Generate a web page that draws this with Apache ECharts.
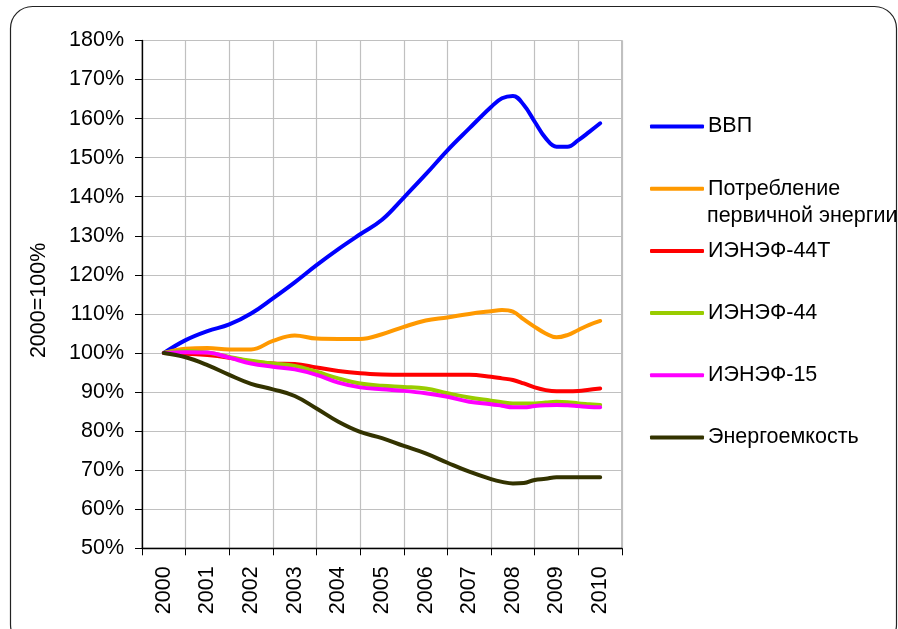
<!DOCTYPE html>
<html>
<head>
<meta charset="utf-8">
<script src="https://cdn.jsdelivr.net/npm/echarts@6/dist/echarts.min.js"></script>
<style>
  html, body { margin: 0; padding: 0; background: #fff; }
  #chart { width: 898px; height: 629px; }
</style>
</head>
<body>
<div id="chart"></div>
<script>
const yearLabels = ["2000", "2001", "2002", "2003", "2004", "2005", "2006", "2007", "2008", "2009", "2010"];

// points in time (fractional years) shared by all series
const times = [2000, 2000.5, 2001, 2001.5, 2002, 2002.5, 2003, 2003.5, 2004, 2004.5,
    2005, 2005.5, 2006, 2006.5, 2007, 2007.5, 2007.75, 2008, 2008.25, 2008.5,
    2008.75, 2009, 2009.25, 2009.5, 2009.75, 2010];

const gdp = [100, 103.3, 105.6, 107.3, 110.1, 114.0, 118.1, 122.5, 126.6, 130.4,
    134.1, 139.8, 145.7, 151.9, 157.5, 163.0, 165.2, 165.8, 163.5, 159.2,
    155.0, 152.8, 152.8, 154.5, 156.6, 158.8];
const primaryEnergy = [100, 101.1, 101.3, 100.9, 100.9, 103.1, 104.5, 103.7, 103.6, 103.6,
    104.8, 106.7, 108.3, 109.1, 110.0, 110.7, 111.0, 110.6, 108.6, 106.7,
    105.0, 104.0, 104.6, 105.9, 107.2, 108.2];
const ienef44t = [100, 99.8, 99.5, 98.8, 97.8, 97.3, 97.2, 96.3, 95.4, 94.8,
    94.5, 94.4, 94.4, 94.4, 94.4, 93.9, 93.5, 93.1, 92.2, 91.2,
    90.5, 90.2, 90.2, 90.3, 90.6, 90.9];
const ienef44 = [100, 100.5, 100.1, 99.0, 98.0, 97.3, 96.7, 95.2, 93.5, 92.2,
    91.6, 91.3, 90.9, 89.7, 88.6, 87.8, 87.4, 87.1, 87.1, 87.1,
    87.3, 87.5, 87.4, 87.1, 86.9, 86.7];
const ienef15 = [100, 100.2, 100.1, 98.8, 97.3, 96.5, 95.8, 94.4, 92.4, 91.2,
    90.7, 90.3, 89.7, 88.8, 87.5, 86.9, 86.5, 86.1, 86.1, 86.4,
    86.6, 86.7, 86.6, 86.4, 86.2, 86.1];
const energyIntensity = [100, 98.9, 96.9, 94.4, 92.1, 90.7, 89.0, 85.8, 82.4, 79.8,
    78.2, 76.2, 74.3, 71.9, 69.6, 67.7, 67.0, 66.6, 66.7, 67.5,
    67.8, 68.2, 68.2, 68.2, 68.2, 68.2];

const seriesNames = ["ВВП", "Потребление", "ИЭНЭФ-44Т", "ИЭНЭФ-44", "ИЭНЭФ-15", "Энергоемкость"];
const seriesColors = ["#0000ff", "#ff9900", "#ff0000", "#99cc00", "#ff00ff", "#333300"];
const seriesValues = [gdp, primaryEnergy, ienef44t, ienef44, ienef15, energyIntensity];

const font = "Liberation Sans, Arial, sans-serif";
const fontSize = 21.5;

const chart = echarts.init(document.getElementById("chart"));

chart.setOption({
    animation: false,
    backgroundColor: "#fff",
    textStyle: { fontFamily: font, color: "#000" },
    grid: {
        left: 142, right: 276, top: 40.5, bottom: 80.7,
        show: true, borderColor: "#808080", borderWidth: 1
    },
    legend: {
        orient: "vertical",
        left: 650,
        top: 115,
        padding: 0,
        itemWidth: 54,
        itemHeight: 4,
        itemGap: 39.2,
        icon: "roundRect",
        textStyle: { fontFamily: font, fontSize: fontSize, color: "#000", lineHeight: 23, padding: [0, 0, 0, -1] },
        data: seriesNames
    },
    graphic: [
        {
            type: "rect",
            silent: true,
            shape: { x: 10.5, y: 6.5, width: 886, height: 640, r: 22 },
            style: { fill: "none", stroke: "#222", lineWidth: 1.2 }
        },
        {
            type: "text",
            left: 707,
            top: 205,
            style: { text: "первичной энергии", font: fontSize + "px " + font, fill: "#000" }
        }
    ],
    xAxis: [
        {
            type: "category",
            data: yearLabels,
            boundaryGap: true,
            axisLine: { lineStyle: { color: "#000", width: 1.3 } },
            axisTick: { show: true, length: 7, lineStyle: { color: "#000" } },
            axisLabel: { rotate: 90, margin: 18, fontSize: fontSize, color: "#000", fontFamily: font },
            splitLine: { show: true, lineStyle: { color: "#c0c0c0", width: 1.2 } }
        },
        {
            type: "value",
            min: 1999.5,
            max: 2010.5,
            show: false
        }
    ],
    yAxis: {
        type: "value",
        min: 50,
        max: 180,
        interval: 10,
        name: "2000=100%",
        nameLocation: "middle",
        nameGap: 92,
        nameTextStyle: { fontSize: fontSize, color: "#000", fontFamily: font, padding: [0, 12, 0, 0] },
        axisLine: { show: true, lineStyle: { color: "#000", width: 1.3 } },
        axisTick: { show: true, length: 7, lineStyle: { color: "#000" } },
        axisLabel: { formatter: "{value}%", fontSize: fontSize, color: "#000", margin: 18, fontFamily: font },
        splitLine: { show: true, lineStyle: { color: "#c0c0c0", width: 1.2 } }
    },
    series: seriesNames.map((name, i) => ({
        name: name,
        type: "line",
        xAxisIndex: 1,
        smooth: 0.4,
        showSymbol: false,
        color: seriesColors[i],
        lineStyle: { width: 4, color: seriesColors[i], cap: "round" },
        data: times.map((t, j) => [t, seriesValues[i][j]])
    }))
});
</script>
</body>
</html>
